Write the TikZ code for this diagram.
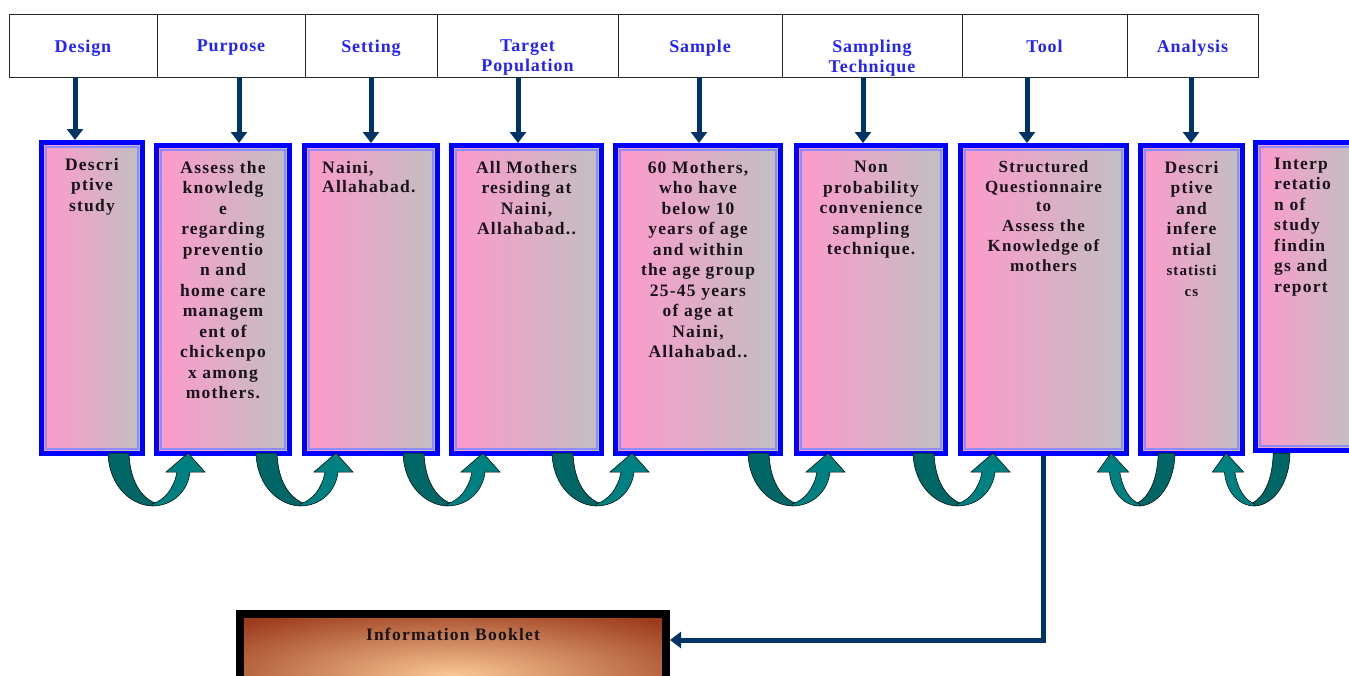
\documentclass[tikz,border=0pt]{standalone}
\usepackage{fontspec}
\setmainfont{Liberation Serif}
\newfontfamily\bodyspaced[LetterSpace=7]{Liberation Serif}
\newfontfamily\headspaced[LetterSpace=5]{Liberation Serif}
\usetikzlibrary{arrows.meta}
\definecolor{navy}{HTML}{003366}
\definecolor{hblue}{RGB}{35,35,255}
\definecolor{pinkc}{RGB}{255,153,204}
\definecolor{grayc}{RGB}{192,192,192}
\definecolor{borderblue}{RGB}{0,0,255}
\definecolor{innerblue}{RGB}{140,140,255}
\definecolor{tealdark}{HTML}{006666}
\definecolor{teallight}{HTML}{008080}
\definecolor{brownc}{RGB}{155,58,28}
\definecolor{peach}{RGB}{250,200,150}
\definecolor{txt}{RGB}{25,20,25}
\tikzset{
  uarrow/.pic={
    \filldraw[fill=tealdark, draw=black, line width=0.5pt]
      (0,0) .. controls (1,35) and (25,53) .. (45,53) -- (47,50)
      .. controls (33,44) and (22,28) .. (21,0) -- cycle;
    \filldraw[fill=teallight, draw=black, line width=0.5pt]
      (44,53) .. controls (65,53) and (80,38) .. (82,19) -- (97,19) -- (80,0)
      -- (58,19) -- (69,19) .. controls (66,35) and (57,47) .. (44,51) -- cycle;
  }
}
\begin{document}
\begin{tikzpicture}[x=1pt,y=-1pt,
  cell/.style={draw=black!85, line width=1pt, minimum height=63pt, inner sep=0pt, outer sep=0pt, anchor=north west},
  hlabel/.style={anchor=north, inner sep=0pt, align=center, text=hblue, font=\headspaced\bfseries\fontsize{18}{20}\selectfont},
  pbox/.style={draw=borderblue, line width=5pt, left color=pinkc, right color=grayc, inner sep=0pt, minimum height=308pt},
  inline/.style={draw=innerblue, line width=2.2pt},
  btext/.style={anchor=north, inner sep=0pt, align=center, text=txt, font=\bodyspaced\bfseries\fontsize{17.5}{20.5}\selectfont},
  ltext/.style={anchor=north west, inner sep=0pt, align=left, text=txt, font=\bodyspaced\bfseries\fontsize{17.5}{20.5}\selectfont},
  navyarr/.style={draw=navy, line width=5pt, -{Triangle[width=16pt,length=11pt]}},
]
\useasboundingbox (0,0) rectangle (1349,675);
\clip (0,0) rectangle (1349,675);

% header cells
\node[cell, minimum width=148pt] (h1) at (9,14) {};
\node[cell, minimum width=148pt] (h2) at (h1.north east) {};
\node[cell, minimum width=132pt] (h3) at (h2.north east) {};
\node[cell, minimum width=181pt] (h4) at (h3.north east) {};
\node[cell, minimum width=164pt] (h5) at (h4.north east) {};
\node[cell, minimum width=180pt] (h6) at (h5.north east) {};
\node[cell, minimum width=165pt] (h7) at (h6.north east) {};
\node[cell, minimum width=131pt] (h8) at (h7.north east) {};

\node[hlabel] (l1) at ([yshift=-26pt]h1.north) {Design};
\node[hlabel] (l2) at ([yshift=-26pt]h2.north) {Purpose};
\node[hlabel] (l3) at ([yshift=-26pt]h3.north) {Setting};
\node[hlabel] (l4) at ([yshift=-26pt]h4.north) {Target\\Population};
\node[hlabel] (l5) at ([yshift=-26pt]h5.north) {Sample};
\node[hlabel] (l6) at ([yshift=-26pt]h6.north) {Sampling\\Technique};
\node[hlabel] (l7) at ([yshift=-26pt]h7.north) {Tool};
\node[hlabel] (l8) at ([yshift=-26pt]h8.north) {Analysis};

% boxes
\node[pbox, minimum width=101pt, minimum height=311pt] (b1) at (92,298) {};
\node[pbox, minimum width=133pt] (b2) at (223,299.5) {};
\node[pbox, minimum width=133pt] (b3) at (371,299.5) {};
\node[pbox, minimum width=150pt] (b4) at (526.5,299.5) {};
\node[pbox, minimum width=165pt] (b5) at (698,299.5) {};
\node[pbox, minimum width=149pt] (b6) at (871,299.5) {};
\node[pbox, minimum width=166pt] (b7) at (1043.5,299.5) {};
\node[pbox, minimum width=102pt] (b8) at (1191.5,299.5) {};
\node[pbox, minimum width=102pt] (b9) at (1306.5,296.5) {};
\foreach \b in {b1,b2,b3,b4,b5,b6,b7,b8,b9}
  \draw[inline] ([shift={(7,7)}]\b.north west) rectangle ([shift={(-7,-7)}]\b.south east);

% box texts
\node[btext] (t1) at ([yshift=-18pt]b1.north) {Descri\\ptive\\study};
\node[btext] (t2) at ([yshift=-18pt]b2.north) {Assess the\\knowledg\\e\\regarding\\preventio\\n and\\home care\\managem\\ent of\\chickenpo\\x among\\mothers.};
\node[ltext, font=\bodyspaced\bfseries\fontsize{17.5}{19}\selectfont] (t3) at ([shift={(20,18)}]b3.north west) {Naini,\\Allahabad.};
\node[btext] (t4) at ([yshift=-18pt]b4.north) {All Mothers\\residing at\\Naini,\\Allahabad..};
\node[btext] (t5) at ([yshift=-18pt]b5.north) {60 Mothers,\\who have\\below 10\\years of age\\and within\\the age group\\25-45 years\\of age at\\Naini,\\Allahabad..};
\node[btext] (t6) at ([yshift=-18pt]b6.north) {Non\\probability\\convenience\\sampling\\technique.};
\node[btext, font=\bodyspaced\bfseries\fontsize{17}{19.7}\selectfont] (t7) at ([yshift=-17.5pt]b7.north) {Structured\\Questionnaire\\to\\Assess the\\Knowledge of\\mothers};
\node[btext] (t8) at ([yshift=-18pt]b8.north) {Descri\\ptive\\and\\infere\\ntial\\\fontsize{15}{19.2}\selectfont statisti\\\fontsize{15}{19.2}\selectfont cs};
\node[ltext] (t9) at ([shift={(21,17.5)}]b9.north west) {Interp\\retatio\\n of\\study\\findin\\gs and\\report};

% down arrows
\draw[navyarr] ([xshift=-8pt]h1.south) -- ([xshift=-8pt]h1.south |- b1.north);
\draw[navyarr] ([xshift=8pt]h2.south) -- ([xshift=8pt]h2.south |- b2.north);
\draw[navyarr] (h3.south) -- (h3.south |- b3.north);
\draw[navyarr] ([xshift=-9.5pt]h4.south) -- ([xshift=-9.5pt]h4.south |- b4.north);
\draw[navyarr] ([xshift=-1pt]h5.south) -- ([xshift=-1pt]h5.south |- b5.north);
\draw[navyarr] ([xshift=-9pt]h6.south) -- ([xshift=-9pt]h6.south |- b6.north);
\draw[navyarr] ([xshift=-17.5pt]h7.south) -- ([xshift=-17.5pt]h7.south |- b7.north);
\draw[navyarr] ([xshift=-1.5pt]h8.south) -- ([xshift=-1.5pt]h8.south |- b8.north);

% curved arrows
\pic at (108,453) {uarrow};
\pic at (256,453) {uarrow};
\pic at (403,453) {uarrow};
\pic at (552,453) {uarrow};
\pic at (748,453) {uarrow};
\pic at (913,453) {uarrow};
\pic[xscale=-0.8] at (1175,453) {uarrow};
\pic[xscale=-0.8] at (1290,453) {uarrow};

% information booklet
\begin{scope}
  \clip (244,618) rectangle (662,700);
  \fill[brownc] (244,618) rectangle (662,700);
  \shade[inner color=peach, outer color=brownc] (453,676) ellipse [x radius=300, y radius=75];
\end{scope}
\node[draw=black, line width=8pt, minimum width=426pt, minimum height=86pt, inner sep=0pt] (bk) at (453,657) {};
\node[anchor=north, inner sep=0pt, text=txt, font=\bodyspaced\bfseries\fontsize{17.5}{20}\selectfont] (bt) at ([yshift=-17.5pt]bk.north) {Information Booklet};

\coordinate (turn) at (b7.south |- 0,640);
\draw[navyarr] (b7.south) -- (turn) -- (turn -| bk.east);
\end{tikzpicture}
\end{document}
